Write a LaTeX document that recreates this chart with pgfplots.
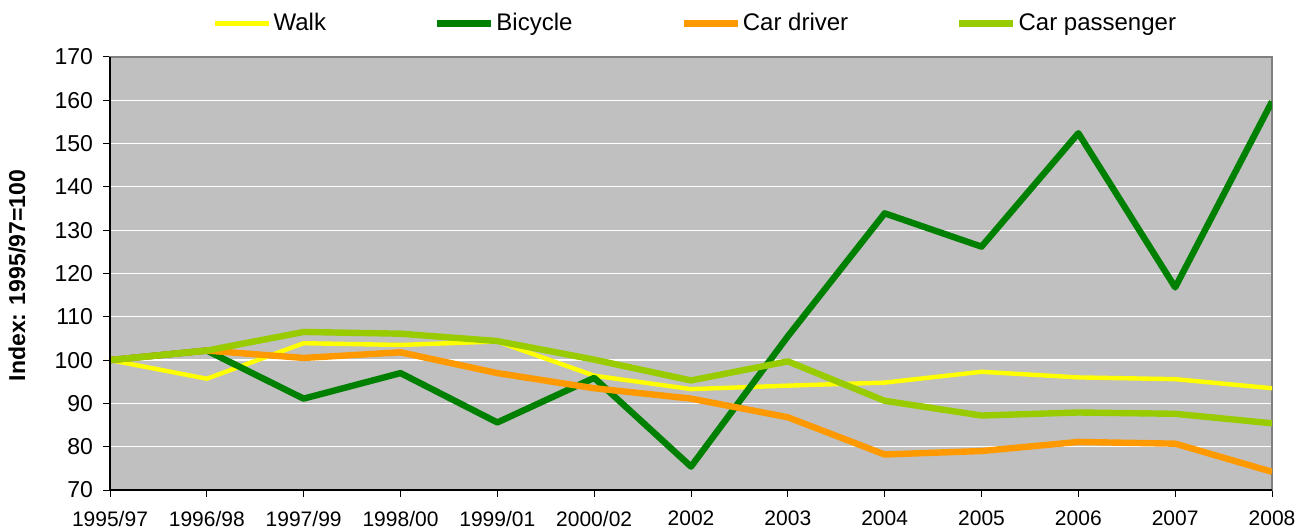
\documentclass[border=0pt]{standalone}
\usepackage{pgfplots}
\pgfplotsset{compat=1.18}
\usepackage{fontspec}
\setmainfont{Liberation Sans}
\definecolor{walk}{HTML}{FFFF00}
\definecolor{bike}{HTML}{008000}
\definecolor{cardrv}{HTML}{FF9900}
\definecolor{carpas}{HTML}{99CC00}
\definecolor{bg}{HTML}{C0C0C0}
\begin{document}
\begin{tikzpicture}
\path[use as bounding box] (0,0) rectangle (655bp,266bp);
\begin{axis}[
  at={(55bp,21bp)}, anchor=south west,
  scale only axis, width=581bp, height=216.5bp,
  xmin=0, xmax=12, ymin=70, ymax=170,
  xtick={0,...,12},
  xticklabels={1995/97,1996/98,1997/99,1998/00,1999/01,2000/02,2002,2003,2004,2005,2006,2007,2008},
  ytick={70,80,...,170},
  xtick pos=left, ytick pos=left,
  tick align=outside,
  major tick length=3.5bp,
  tick style={black, line width=0.5bp},
  /pgf/number format/assume math mode=true,
  yticklabel style={font=\fontsize{11.5bp}{13bp}\selectfont, xshift=-1.5bp},
  xticklabel style={font=\fontsize{10.5bp}{12bp}\selectfont, yshift=-3.5bp},
  ymajorgrids, grid style={white, line width=0.6bp},
  axis background/.style={fill=bg},
  axis line style={draw=gray, line width=1bp},
  ylabel={\bfseries Index: 1995/97=100},
  ylabel style={font=\fontsize{11.5bp}{13bp}\selectfont, at={(axis description cs:-0.080,0.495)}, anchor=center, rotate=0},
  legend columns=4,
  legend style={at={(axis description cs:0.504,1.045)}, anchor=south, draw=none, fill=none,
    font=\fontsize{12bp}{14bp}\selectfont,
    nodes={inner xsep=1bp},
    /tikz/every even column/.append style={column sep=53bp},
    inner sep=0pt, outer sep=0pt},
  legend cell align=left,
  legend image code/.code={\draw[#1] (0bp,0bp) -- (27bp,0bp);},
  every axis plot/.append style={line join=round},
]
\addplot[walk, line width=2.2bp] coordinates {
(0,100) (1,95.7) (2,103.9) (3,103.5) (4,104.3) (5,96.4) (6,93.3) (7,94.1) (8,94.8) (9,97.3) (10,96.0) (11,95.6) (12,93.5)};
\addlegendentry{Walk}
\addplot[bike, line width=3.2bp] coordinates {
(0,100) (1,102.2) (2,91.1) (3,97.0) (4,85.6) (5,95.9) (6,75.4) (7,105.5) (8,133.9) (9,126.2) (10,152.4) (11,116.8) (12,159.7)};
\addlegendentry{Bicycle}
\addplot[cardrv, line width=3.2bp] coordinates {
(0,100) (1,102.2) (2,100.5) (3,101.8) (4,97.0) (5,93.5) (6,91.1) (7,86.8) (8,78.2) (9,79.0) (10,81.1) (11,80.7) (12,74.2)};
\addlegendentry{Car driver}
\addplot[carpas, line width=3.2bp] coordinates {
(0,100) (1,102.2) (2,106.5) (3,106.1) (4,104.4) (5,100.1) (6,95.3) (7,99.7) (8,90.6) (9,87.2) (10,87.9) (11,87.6) (12,85.4)};
\addlegendentry{Car passenger}
\end{axis}
\draw[black, line width=0.6bp] (55bp,266bp-28.5bp) -- (55bp,21bp) -- (636bp,21bp);
\end{tikzpicture}
\end{document}
